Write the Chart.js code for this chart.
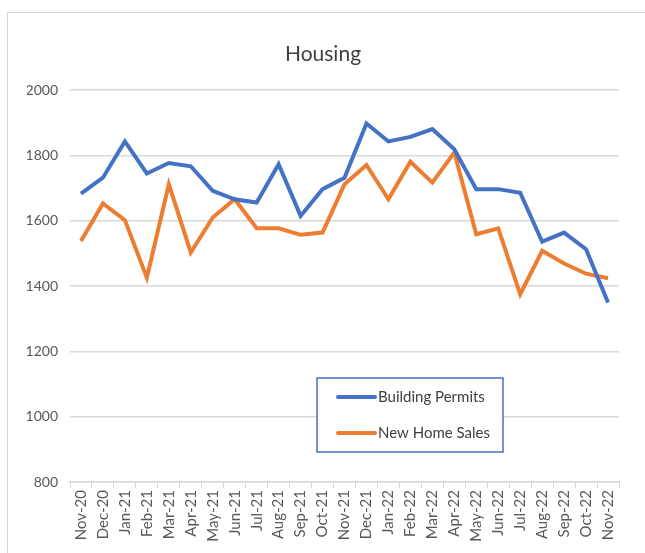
<!DOCTYPE html>
<html>
<head>
<meta charset="utf-8">
<script src="https://cdn.jsdelivr.net/npm/chart.js@4"></script>
<style>
  html, body { margin: 0; padding: 0; background: #fff; overflow: hidden; }
  #wrap { position: relative; width: 645px; height: 553px; }
  #frame { position: absolute; left: 7px; top: 12px; width: 700px; height: 600px; border: 1px solid #d4d4d4; }
  canvas { position: absolute; left: 0; top: 0; }
</style>
</head>
<body>
<div id="wrap">
  <div id="frame"></div>
  <canvas id="chart" width="645" height="553"></canvas>
</div>
<script>
const months = ['Nov-20', 'Dec-20', 'Jan-21', 'Feb-21', 'Mar-21', 'Apr-21', 'May-21', 'Jun-21', 'Jul-21',
  'Aug-21', 'Sep-21', 'Oct-21', 'Nov-21', 'Dec-21', 'Jan-22', 'Feb-22', 'Mar-22', 'Apr-22', 'May-22',
  'Jun-22', 'Jul-22', 'Aug-22', 'Sep-22', 'Oct-22', 'Nov-22']

const buildingPermits = [1683, 1732, 1843, 1745, 1777, 1767, 1692, 1666, 1656, 1773, 1615, 1697, 1732,
  1898, 1843, 1857, 1881, 1819, 1697, 1697, 1686, 1536, 1564, 1513, 1350]

const newHomeSales = [1538, 1653, 1602, 1426, 1712, 1503, 1610, 1666, 1577, 1577, 1557, 1564, 1712,
  1771, 1666, 1781, 1717, 1809, 1559, 1577, 1375, 1508, 1469, 1438, 1424]

const yMin = 800
const yMax = 2000
const yStep = 200

const fontFamily = 'Lato, "Open Sans", sans-serif'
const textColor = '#595959'
const gridColor = '#d9d9d9'

// legend drawn as a framed box inside the plot, like the spreadsheet original
const boxLegend = {
  id: 'boxLegend',
  afterDraw(chart) {
    const ctx = chart.ctx
    const x = 317, y = 378, w = 186, h = 74
    ctx.save()
    ctx.fillStyle = '#fff'
    ctx.fillRect(x, y, w, h)
    ctx.strokeStyle = '#4472C4'
    ctx.lineWidth = 1.5
    ctx.strokeRect(x, y, w, h)
    ctx.font = '15px ' + fontFamily
    ctx.textBaseline = 'middle'
    chart.data.datasets.forEach((ds, i) => {
      const cy = y + 19 + i * 36
      ctx.strokeStyle = ds.borderColor
      ctx.lineWidth = 4
      ctx.lineCap = 'round'
      ctx.beginPath()
      ctx.moveTo(338, cy)
      ctx.lineTo(375, cy)
      ctx.stroke()
      ctx.fillStyle = '#404040'
      ctx.fillText(ds.label, 378, cy)
    })
    ctx.restore()
  }
}

const ctx = document.getElementById('chart').getContext('2d')
new Chart(ctx, {
  type: 'line',
  data: {
    labels: months,
    datasets: [
      {
        label: 'Building Permits',
        data: buildingPermits,
        borderColor: '#4472C4',
        borderWidth: 4,
        pointRadius: 0,
        tension: 0,
      },
      {
        label: 'New Home Sales',
        data: newHomeSales,
        borderColor: '#ED7D31',
        borderWidth: 4,
        pointRadius: 0,
        tension: 0,
      },
    ],
  },
  options: {
    responsive: false,
    animation: false,
    layout: { padding: { left: 27, right: 26, top: 0, bottom: 0 } },
    plugins: {
      legend: { display: false },
      tooltip: { enabled: false },
      title: {
        display: true,
        text: 'Housing',
        color: '#404040',
        font: { family: fontFamily, size: 21, weight: 'normal' },
        padding: { top: 42, bottom: 23 },
      },
    },
    scales: {
      x: {
        offset: true,
        grid: {
          offset: true,
          drawOnChartArea: false,
          drawTicks: true,
          tickLength: 6,
          color: gridColor,
        },
        border: { display: true, color: gridColor, width: 1.5 },
        ticks: {
          autoSkip: false,
          minRotation: 90,
          maxRotation: 90,
          padding: 2,
          color: textColor,
          font: { family: fontFamily, size: 15 },
        },
        afterFit(scale) { scale.height = 71 },
      },
      y: {
        min: yMin,
        max: yMax,
        ticks: {
          stepSize: yStep,
          padding: 12,
          color: textColor,
          font: { family: fontFamily, size: 14 },
          callback: (v) => String(v),
        },
        grid: { color: gridColor, lineWidth: 1.5, drawTicks: false },
        border: { display: false },
        afterFit(scale) { scale.width = 43 },
      },
    },
  },
  plugins: [boxLegend],
})
</script>
</body>
</html>
